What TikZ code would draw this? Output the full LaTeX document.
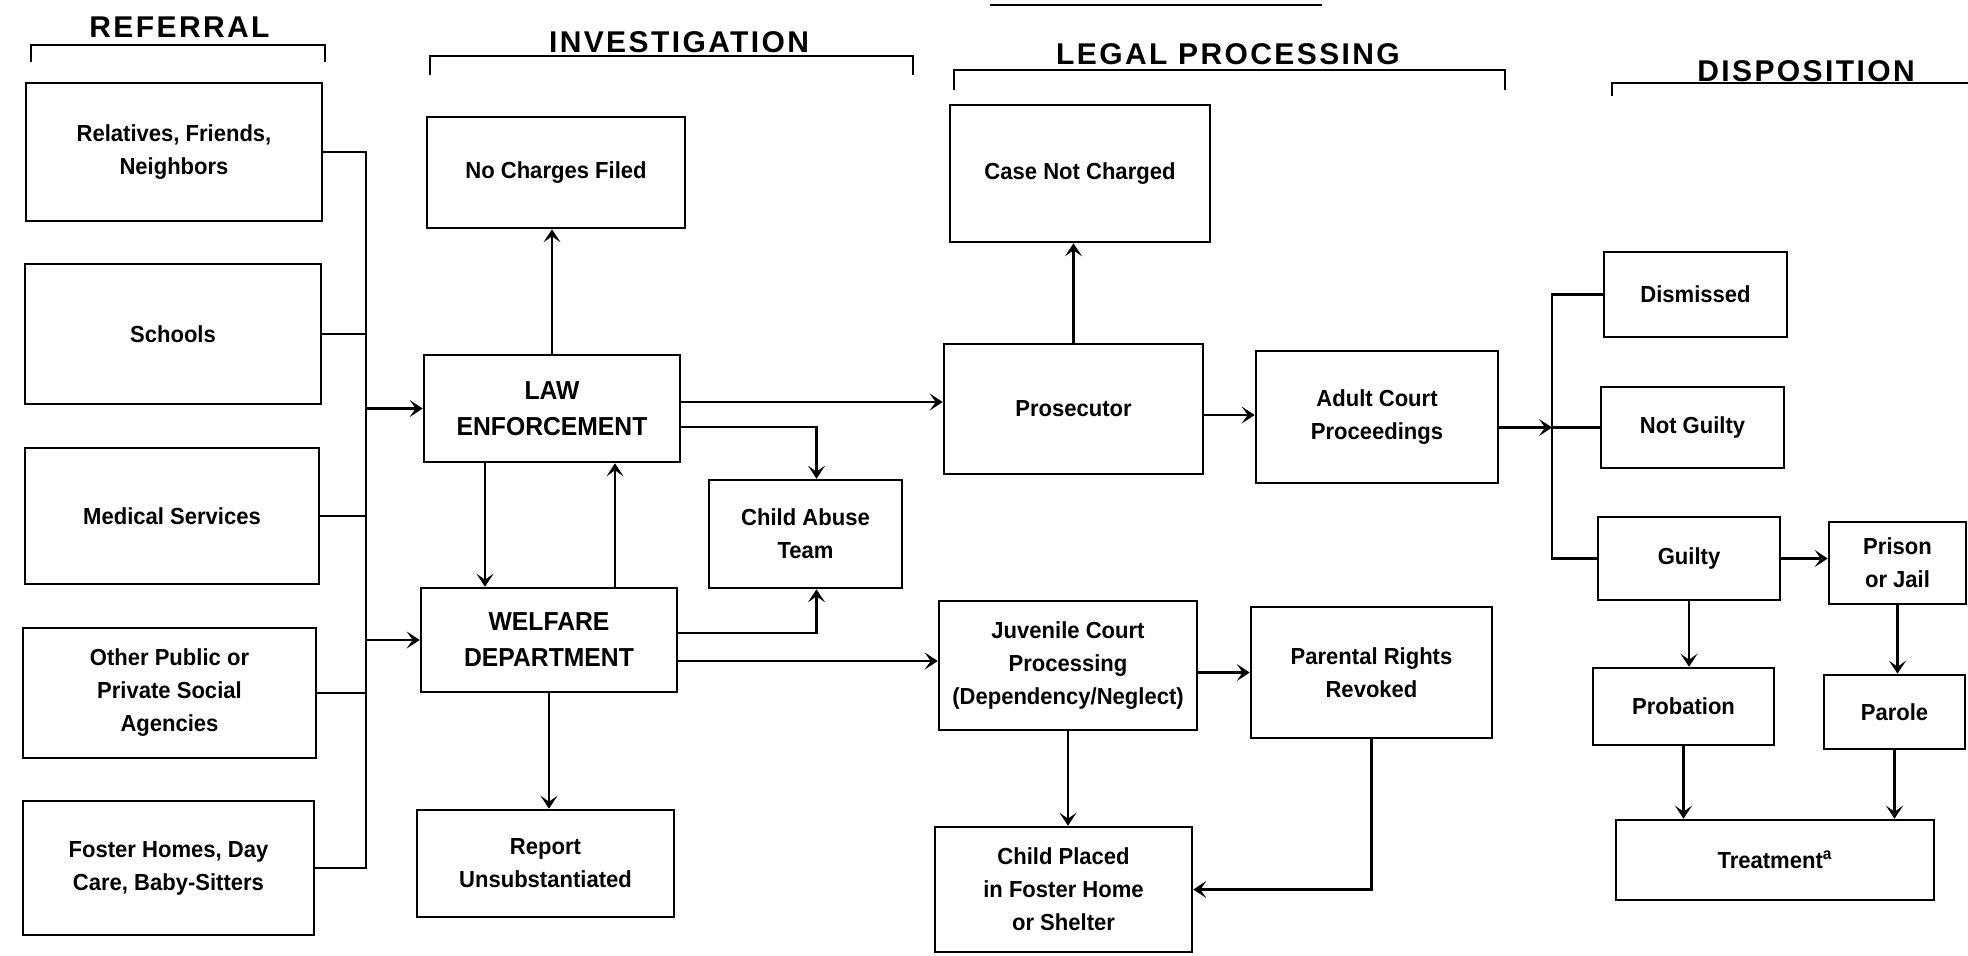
\documentclass[tikz,border=0pt]{standalone}
\usepackage{fontspec}
\setmainfont[FakeStretch=0.95]{Liberation Sans}
\newfontfamily\hdfont[LetterSpace=8]{Liberation Sans}
\usetikzlibrary{arrows.meta}
\begin{document}
\begin{tikzpicture}[x=0.5pt,y=-0.5pt,
  box/.style={draw, line width=1.3pt, inner sep=0pt, align=center,
    font=\fontsize{11.6}{16.5}\selectfont\bfseries},
  capbox/.style={box, font=\fontsize{13}{18}\selectfont\bfseries},
  conn/.style={line width=1.15pt},
  arr/.style={conn, -{Stealth[length=6.5pt,width=8.5pt,inset=3pt]}},
  brk/.style={line width=1.2pt},
  hd/.style={font=\hdfont\fontsize{15}{18}\selectfont\bfseries, inner sep=0pt}]
\useasboundingbox (0,0) rectangle (1968,955);

% headers
\node[hd] (h1) at (179.5,27.6) {REFERRAL};
\draw[brk] (31,62) -- (31,45) -- (325,45) -- (325,62);
\node[hd] (h2) at (679,42) {INVESTIGATION};
\draw[brk] (430,75) -- (430,56) -- (913,56) -- (913,75);
\node[hd] (h3) at (1228,54) {LEGAL PROCESSING};
\draw[brk] (954,90) -- (954,70) -- (1505,70) -- (1505,90);
\node[hd] (h4) at (1806,71) {DISPOSITION};
\draw[brk] (1612,96) -- (1612,83) -- (1968,83);
\draw[brk] (990,5) -- (1322,5);

% referral
\node[box, minimum width=148pt, minimum height=69pt] (rel) at (174,152) {Relatives, Friends,\\Neighbors};
\node[box, minimum width=148pt, minimum height=70pt] (sch) at (173,334) {Schools};
\node[box, minimum width=147pt, minimum height=68pt] (med) at (172,516) {Medical Services};
\node[box, minimum width=146.5pt, minimum height=65pt] (oth) at (169.5,693) {Other Public or\\Private Social\\Agencies};
\node[box, minimum width=145.5pt, minimum height=67pt] (fos) at (168.5,868) {Foster Homes, Day\\Care, Baby-Sitters};

% investigation
\node[box, minimum width=129pt, minimum height=55.5pt] (ncf) at (556,172.5) {No Charges Filed};
\node[capbox, minimum width=128pt, minimum height=53.5pt] (le) at (552,408.5) {LAW\\ENFORCEMENT};
\node[capbox, minimum width=128pt, minimum height=52pt] (wel) at (549,640) {WELFARE\\DEPARTMENT};
\node[box, minimum width=96.5pt, minimum height=54pt] (cat) at (805.5,534) {Child Abuse\\Team};
\node[box, minimum width=128.5pt, minimum height=53.5pt] (rep) at (545.5,863.5) {Report\\Unsubstantiated};

% legal processing
\node[box, minimum width=130pt, minimum height=68.5pt] (cnc) at (1080,173.5) {Case Not Charged};
\node[box, minimum width=129.5pt, minimum height=65pt] (pros) at (1073.5,409) {Prosecutor};
\node[box, minimum width=121pt, minimum height=66pt] (adu) at (1377,417) {Adult Court\\Proceedings};
\node[box, minimum width=129pt, minimum height=64.5pt] (juv) at (1068,665.5) {Juvenile Court\\Processing\\(Dependency/Neglect)};
\node[box, minimum width=120.5pt, minimum height=65.5pt] (par) at (1371.5,672.5) {Parental Rights\\Revoked};
\node[box, minimum width=128.5pt, minimum height=62.5pt] (chp) at (1063.5,889.5) {Child Placed\\in Foster Home\\or Shelter};

% disposition
\node[box, minimum width=91.5pt, minimum height=42.5pt] (dis) at (1695.5,294.5) {Dismissed};
\node[box, minimum width=91.5pt, minimum height=40.5pt] (ng) at (1692.5,427.5) {Not Guilty};
\node[box, minimum width=91pt, minimum height=41.5pt] (gui) at (1689,558.5) {Guilty};
\node[box, minimum width=68.5pt, minimum height=41pt] (pri) at (1897.5,563) {Prison\\or Jail};
\node[box, minimum width=90.5pt, minimum height=38.5pt] (pro) at (1683.5,706.5) {Probation};
\node[box, minimum width=70.5pt, minimum height=37pt] (prl) at (1894.5,712) {Parole};
\node[box, minimum width=159pt, minimum height=40pt] (trt) at (1775,860) {Treatment\textsuperscript{a}};

% helper coordinates
\coordinate (b1) at (366,0);
\coordinate (b2) at (1552,0);
\coordinate (xa) at (485,0);
\coordinate (xb) at (615,0);

% referral bus
\draw[conn] (rel.east) -- (rel.east -| b1) -- (fos.east -| b1) -- (fos.east);
\foreach \n in {sch,med,oth} \draw[conn] (\n.east) -- (\n.east -| b1);
\draw[arr] (le.west -| b1) -- (le.west);
\draw[arr] (wel.west -| b1) -- (wel.west);

% investigation
\draw[arr] (le.north) -- (le.north |- ncf.south);
\draw[arr] (le.south -| xa) -- (wel.north -| xa);
\draw[arr] (wel.north -| xb) -- (le.south -| xb);
\draw[arr] ([yshift=-9.25pt]le.east) -| ([xshift=5.5pt]cat.north);
\draw[arr] ([yshift=3.5pt]wel.east) -| ([xshift=5.5pt]cat.south);
\draw[arr] ([yshift=3.25pt]le.east) -- ([yshift=3.25pt]le.east -| pros.west);
\draw[arr] ([yshift=-10.5pt]wel.east) -- ([yshift=-10.5pt]wel.east -| juv.west);
\draw[arr] (wel.south) -- (wel.south |- rep.north);

% legal processing
\draw[arr] (pros.north) -- (pros.north |- cnc.south);
\draw[arr] ([yshift=-3pt]pros.east) -- ([yshift=-3pt]pros.east -| adu.west);
\draw[arr] (par.west -| juv.east) -- (par.west);
\draw[arr] (juv.south) -- (juv.south |- chp.north);
\draw[arr] (par.south) |- (chp.east);

% disposition
\draw[arr] (adu.east |- ng.west) -- (ng.west -| b2);
\draw[conn] (ng.west -| b2) -- (ng.west);
\draw[conn] (dis.west) -- (dis.west -| b2) -- (gui.west -| b2) -- (gui.west);
\draw[arr] (gui.east) -- (gui.east -| pri.west);
\draw[arr] (gui.south) -- (gui.south |- pro.north);
\draw[arr] (pri.south) -- (pri.south |- prl.north);
\draw[arr] (pro.south) -- (pro.south |- trt.north);
\draw[arr] (prl.south) -- (prl.south |- trt.north);
\end{tikzpicture}
\end{document}
